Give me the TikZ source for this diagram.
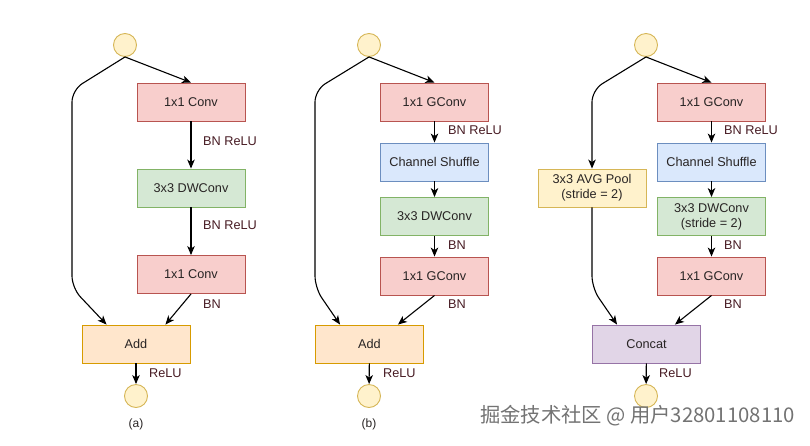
\documentclass[tikz,border=0pt]{standalone}
\usepackage{fontspec}
\setmainfont{Liberation Sans}
\newfontfamily\cjkfont{Noto Sans CJK SC}
\usetikzlibrary{arrows.meta,calc}
\definecolor{redF}{HTML}{F8CECC}\definecolor{redD}{HTML}{B85450}
\definecolor{grnF}{HTML}{D5E8D4}\definecolor{grnD}{HTML}{82B366}
\definecolor{bluF}{HTML}{DAE8FC}\definecolor{bluD}{HTML}{6C8EBF}
\definecolor{orgF}{HTML}{FFE6CC}\definecolor{orgD}{HTML}{D79B00}
\definecolor{yelF}{HTML}{FFF2CC}\definecolor{yelD}{HTML}{D6B656}
\definecolor{purF}{HTML}{E1D5E7}\definecolor{purD}{HTML}{9673A6}
\definecolor{lblC}{RGB}{72,28,36}
\definecolor{txtC}{RGB}{40,36,36}
\begin{document}
\begin{tikzpicture}[x=1pt,y=-1pt,
  box/.style={draw, line width=0.9pt, minimum width=108pt, minimum height=38pt, inner sep=0pt, align=center, text=txtC, font=\fontsize{12.7}{15}\selectfont},
  redbox/.style={box, fill=redF, draw=redD},
  grnbox/.style={box, fill=grnF, draw=grnD},
  blubox/.style={box, fill=bluF, draw=bluD},
  orgbox/.style={box, fill=orgF, draw=orgD},
  yelbox/.style={box, fill=yelF, draw=yelD},
  purbox/.style={box, fill=purF, draw=purD},
  io/.style={circle, draw=yelD, fill=yelF, line width=0.9pt, minimum size=23pt, inner sep=0pt},
  arr/.style={-{Stealth[length=9pt,width=7.5pt,inset=2.5pt]}, line width=1.1pt, black},
  lbl/.style={anchor=west, text=lblC, inner sep=0pt, font=\fontsize{12.7}{15}\selectfont},
  subcap/.style={text=txtC, inner sep=0pt, font=\fontsize{12}{14}\selectfont}
]
\useasboundingbox (0,0) rectangle (810,445);
\fill[white] (0,0) rectangle (810,445);

% ---------- (a) ----------
\node[io] (a0) at (125,45) {};
\node[redbox] (a1) at (191,102) {1x1 Conv};
\node[grnbox] (a2) at (191,188) {3x3 DWConv};
\node[redbox] (a3) at (191,274.5) {1x1 Conv};
\node[orgbox] (aadd) at (136,344) {Add};
\node[io] (aout) at (136,396) {};
\node[subcap] (acap) at (136,424) {(a)};
\node[lbl] (al1) at (203,141) {BN ReLU};
\node[lbl] (al2) at (203,225) {BN ReLU};
\node[lbl] (al3) at (203,304) {BN};
\node[lbl] (al4) at (149,373) {ReLU};
\draw[arr] (a0.south) -- (a1.north);
\draw[arr] (a1) -- (a2);
\draw[arr] (a2) -- (a3);
\draw[arr, rounded corners=12pt] (a0.south) -- (72,90) -- (72,288) -- ($(aadd.north west)+(25,0)$);
\draw[arr] (a3.south) -- ($(aadd.north east)+(-25,0)$);
\draw[arr] (aadd) -- (aout);

% ---------- (b) ----------
\node[io] (b0) at (369,45) {};
\node[redbox] (b1) at (434.5,102) {1x1 GConv};
\node[blubox] (b2) at (434.5,162) {Channel Shuffle};
\node[grnbox] (b3) at (434.5,216.5) {3x3 DWConv};
\node[redbox] (b4) at (434.5,276) {1x1 GConv};
\node[orgbox] (badd) at (369.5,344) {Add};
\node[io] (bout) at (369,396) {};
\node[subcap] (bcap) at (369,424) {(b)};
\node[lbl] (bl1) at (448,130) {BN ReLU};
\node[lbl] (bl2) at (448,245) {BN};
\node[lbl] (bl3) at (448,304) {BN};
\node[lbl] (bl4) at (383,373) {ReLU};
\draw[arr] (b0.south) -- (b1.north);
\draw[arr] (b1) -- (b2);
\draw[arr] (b2) -- (b3);
\draw[arr] (b3) -- (b4);
\draw[arr, rounded corners=12pt] (b0.south) -- (315,90) -- (315,288) -- ($(badd.north west)+(25,0)$);
\draw[arr] (b4.south) -- ($(badd.north east)+(-26,0)$);
\draw[arr] (badd) -- (bout);

% ---------- (c) ----------
\node[io] (c0) at (646,45) {};
\node[redbox] (c1) at (711.5,102) {1x1 GConv};
\node[blubox] (c2) at (711.5,162) {Channel Shuffle};
\node[grnbox] (c3) at (711.5,216.5) {3x3 DWConv\\(stride = 2)};
\node[redbox] (c4) at (711.5,276) {1x1 GConv};
\node[yelbox] (cpool) at (592,188) {3x3 AVG Pool\\(stride = 2)};
\node[purbox] (ccat) at (646.5,344) {Concat};
\node[io] (cout) at (646,396) {};
\node[lbl] (cl1) at (724,130) {BN ReLU};
\node[lbl] (cl2) at (724,245) {BN};
\node[lbl] (cl3) at (724,304) {BN};
\node[lbl] (cl4) at (659,373) {ReLU};
\draw[arr] (c0.south) -- (c1.north);
\draw[arr] (c1) -- (c2);
\draw[arr] (c2) -- (c3);
\draw[arr] (c3) -- (c4);
\draw[arr, rounded corners=12pt] (c0.south) -- (592,90) -- (cpool.north);
\draw[arr, rounded corners=12pt] (cpool.south) -- (592,288) -- ($(ccat.north west)+(25,0)$);
\draw[arr] (c4.south) -- ($(ccat.north east)+(-26,0)$);
\draw[arr] (ccat) -- (cout);

% ---------- watermark ----------
\node[anchor=west, inner sep=0pt, text=black!55, font=\cjkfont\fontsize{20.3}{22}\selectfont] (wm) at (480,416) {掘金技术社区 @ 用户32801108110};
\end{tikzpicture}
\end{document}
